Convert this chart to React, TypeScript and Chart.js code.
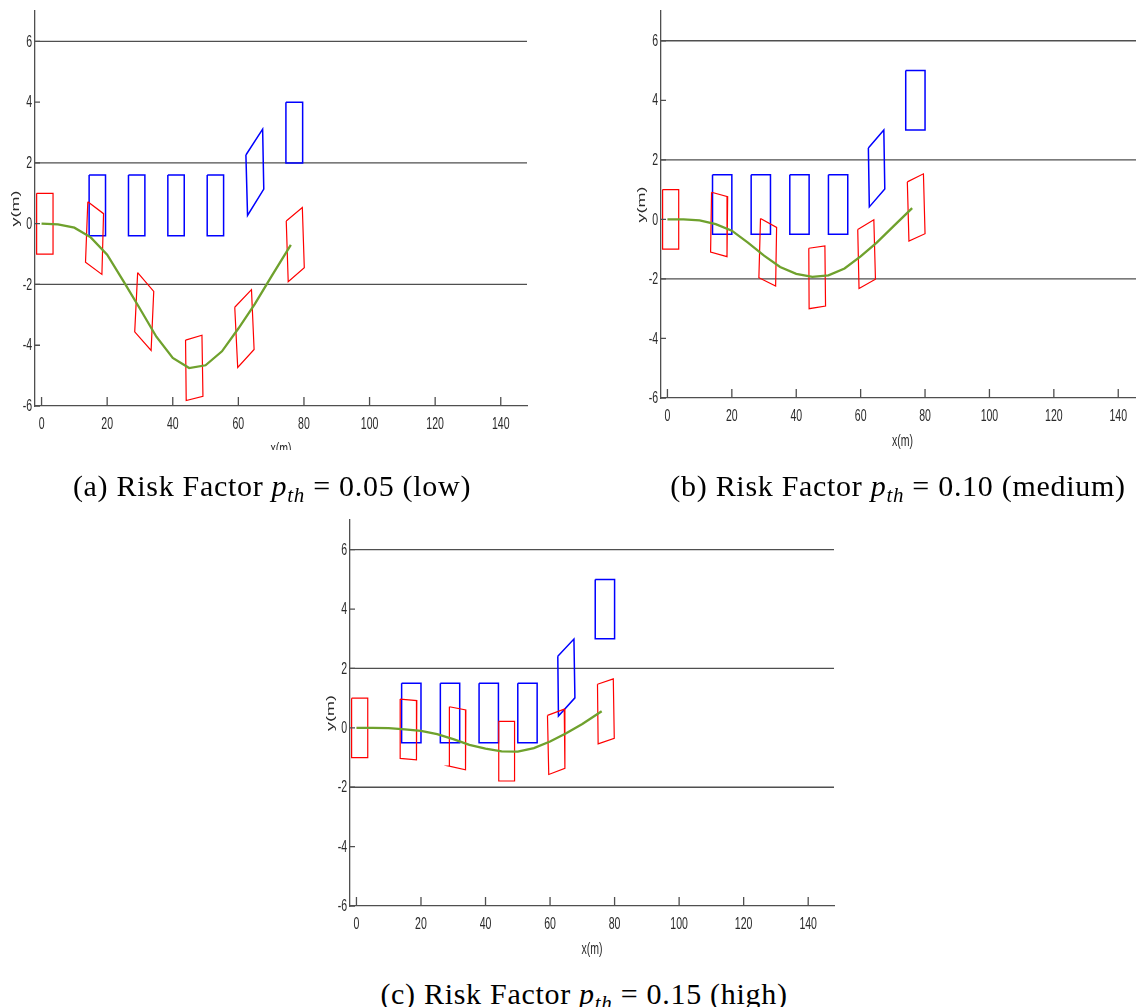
import React, { useEffect, useRef } from "react";
import { Chart, registerables } from "chart.js";

Chart.register(...registerables);

type Pt = [number, number];

// ---------- shared axis data ----------
const xRange = [-2, 148];
const yRange = [-6, 7];
const xTickValues = [0, 20, 40, 60, 80, 100, 120, 140];
const yTickValues = [-6, -4, -2, 0, 2, 4, 6];
const laneLineY = [6, 2, -2];
const xAxisTitle = "x(m)";
const yAxisTitle = "y(m)";

// ---------- (a) p_th = 0.05 ----------
const trajXA = [0, 5, 10, 15, 20, 25, 30, 35, 40, 45, 50, 55, 60, 65, 70, 76];
const trajYA = [0, -0.02, -0.13, -0.45, -1.02, -1.9, -2.8, -3.72, -4.42, -4.75, -4.66, -4.2, -3.45, -2.65, -1.75, -0.7];
const egoBoxesA: Pt[][] = [
  [[-1.5, 1], [3.5, 1], [3.5, -1], [-1.5, -1]],
  [[14.1, 0.72], [18.9, 0.33], [18.4, -1.67], [13.4, -1.27]],
  [[29.3, -1.61], [34.2, -2.23], [33.4, -4.17], [28.4, -3.56]],
  [[43.9, -3.83], [48.9, -3.67], [49.2, -5.68], [44.1, -5.82]],
  [[58.9, -2.75], [64.0, -2.17], [64.8, -4.14], [59.8, -4.73]],
  [[74.6, 0.09], [79.5, 0.53], [80.1, -1.45], [75.2, -1.91]],
];
const obstacleBoxesA: Pt[][] = [
  [[14.5, 1.6], [19.5, 1.6], [19.5, -0.4], [14.5, -0.4]],
  [[26.5, 1.6], [31.5, 1.6], [31.5, -0.4], [26.5, -0.4]],
  [[38.5, 1.6], [43.5, 1.6], [43.5, -0.4], [38.5, -0.4]],
  [[50.5, 1.6], [55.5, 1.6], [55.5, -0.4], [50.5, -0.4]],
  [[62.3, 2.26], [67.4, 3.11], [67.75, 1.14], [62.8, 0.27]],
  [[74.5, 4], [79.6, 4], [79.6, 2], [74.5, 2]],
];

// ---------- (b) p_th = 0.10 ----------
const trajXB = [0, 5, 10, 15, 20, 25, 30, 35, 40, 45, 50, 55, 60, 65, 70, 76];
const trajYB = [0, 0, -0.03, -0.16, -0.38, -0.78, -1.22, -1.6, -1.83, -1.93, -1.88, -1.65, -1.24, -0.78, -0.25, 0.38];
const egoBoxesB: Pt[][] = [
  [[-1.5, 1], [3.5, 1], [3.5, -1], [-1.5, -1]],
  [[13.7, 0.91], [18.7, 0.76], [18.5, -1.25], [13.4, -1.1]],
  [[28.9, 0.03], [33.9, -0.27], [33.6, -2.24], [28.4, -1.96]],
  [[43.9, -0.97], [48.9, -0.89], [49.1, -2.91], [44.0, -3.0]],
  [[59.1, -0.34], [64.1, -0.01], [64.6, -2.01], [59.5, -2.32]],
  [[74.5, 1.26], [79.5, 1.53], [80.0, -0.48], [75.0, -0.73]],
];
const obstacleBoxesB: Pt[][] = [
  [[14, 1.5], [20, 1.5], [20, -0.5], [14, -0.5]],
  [[26, 1.5], [32, 1.5], [32, -0.5], [26, -0.5]],
  [[38, 1.5], [44, 1.5], [44, -0.5], [38, -0.5]],
  [[50, 1.5], [56, 1.5], [56, -0.5], [50, -0.5]],
  [[62.4, 2.4], [67.2, 3.0], [67.5, 1.02], [62.7, 0.42]],
  [[74, 5], [80, 5], [80, 3], [74, 3]],
];

// ---------- (c) p_th = 0.15 ----------
const trajXC = [0, 5, 10, 15, 20, 25, 30, 35, 40, 45, 50, 55, 60, 65, 70, 76];
const trajYC = [0, 0, -0.01, -0.05, -0.1, -0.21, -0.38, -0.57, -0.7, -0.79, -0.8, -0.68, -0.46, -0.18, 0.13, 0.56];
const egoBoxesC: Pt[][] = [
  [[-1.5, 1], [3.5, 1], [3.5, -1], [-1.5, -1]],
  [[13.55, 0.97], [18.7, 0.92], [18.6, -1.08], [13.55, -1.03]],
  [[28.8, 0.71], [33.9, 0.6], [33.8, -1.41], [28.7, -1.29]],
  [[44.1, 0.22], [49.0, 0.22], [49.0, -1.79], [44.1, -1.79]],
  [[59.2, 0.42], [64.4, 0.63], [64.6, -1.36], [59.6, -1.57]],
  [[74.7, 1.47], [79.6, 1.65], [79.9, -0.35], [74.9, -0.54]],
];
const obstacleBoxesC: Pt[][] = [
  [[14, 1.5], [20, 1.5], [20, -0.5], [14, -0.5]],
  [[26, 1.5], [32, 1.5], [32, -0.5], [26, -0.5]],
  [[38, 1.5], [44, 1.5], [44, -0.5], [38, -0.5]],
  [[50, 1.5], [56, 1.5], [56, -0.5], [50, -0.5]],
  [[62.4, 2.41], [67.4, 2.99], [67.7, 1.01], [62.6, 0.4]],
  [[74, 5], [80, 5], [80, 3], [74, 3]],
];

const captionLabels = ["(a)", "(b)", "(c)"];
const riskValues = ["0.05", "0.10", "0.15"];
const riskLevels = ["low", "medium", "high"];

// ---------- styles ----------
const GREEN = "#6fa12d";
const RED = "#ff0000";
const BLUE = "#0000ff";
const AXIS_COLOR = "#4f4f4f";
const TEXT_COLOR = "#2a2a2a";
const SQUEEZE = 0.62;
const AXIS_FONT = '"Liberation Sans", Arial, sans-serif';

const closed = (poly: Pt[]) => [...poly, poly[0]].map(([x, y]) => ({ x, y }));

function buildDatasets(tx: number[], ty: number[], ego: Pt[][], obs: Pt[][]) {
  const base = { showLine: true, pointRadius: 0, fill: false, tension: 0 };
  const ds: any[] = [];
  ds.push({ ...base, data: tx.map((x, i) => ({ x, y: ty[i] })), borderColor: GREEN, borderWidth: 2.3 });
  ego.forEach((p) => ds.push({ ...base, data: closed(p), borderColor: RED, borderWidth: 1.2 }));
  obs.forEach((p) => ds.push({ ...base, data: closed(p), borderColor: BLUE, borderWidth: 1.5 }));
  laneLineY.forEach((y) =>
    ds.push({ ...base, data: [{ x: xRange[0], y }, { x: xRange[1], y }], borderColor: AXIS_COLOR, borderWidth: 1.3 })
  );
  return ds;
}

function squeezedText(ctx: CanvasRenderingContext2D, text: string, x: number, y: number, align: CanvasTextAlign, size: number) {
  ctx.save();
  ctx.translate(x, y);
  ctx.scale(SQUEEZE, 1);
  ctx.font = `${size}px ${AXIS_FONT}`;
  ctx.textAlign = align;
  ctx.textBaseline = "middle";
  ctx.fillStyle = TEXT_COLOR;
  ctx.fillText(text, 0, 0);
  ctx.restore();
}

const axisPlugin = {
  id: "matlabAxes",
  afterDraw(chart: any) {
    const { ctx, chartArea } = chart;
    const xs = chart.scales.x;
    const ys = chart.scales.y;
    ctx.save();
    ctx.strokeStyle = AXIS_COLOR;
    ctx.lineWidth = 1.3;
    ctx.beginPath();
    xs.ticks.forEach((t: any) => {
      const px = xs.getPixelForValue(t.value);
      ctx.moveTo(px, chartArea.bottom);
      ctx.lineTo(px, chartArea.bottom - 9);
    });
    ys.ticks.forEach((t: any) => {
      const py = ys.getPixelForValue(t.value);
      ctx.moveTo(chartArea.left, py);
      ctx.lineTo(chartArea.left + 5, py);
    });
    ctx.stroke();
    ctx.restore();

    xs.ticks.forEach((t: any) => {
      squeezedText(ctx, String(t.value), xs.getPixelForValue(t.value), chartArea.bottom + 18, "center", 17);
    });
    ys.ticks.forEach((t: any) => {
      squeezedText(ctx, String(t.value), chartArea.left - 3, ys.getPixelForValue(t.value) + 0.5, "right", 17);
    });
    squeezedText(ctx, xAxisTitle, (chartArea.left + chartArea.right) / 2, chartArea.bottom + 43, "center", 17);

    ctx.save();
    ctx.translate(chartArea.left - 19, (chartArea.top + chartArea.bottom) / 2);
    ctx.scale(SQUEEZE, 1);
    ctx.rotate(-Math.PI / 2);
    ctx.font = `18px ${AXIS_FONT}`;
    ctx.textAlign = "center";
    ctx.textBaseline = "middle";
    ctx.fillStyle = TEXT_COLOR;
    ctx.fillText(yAxisTitle, 0, 0);
    ctx.restore();
  },
};

type PanelCfg = {
  left: number; top: number; w: number; h: number;
  padTop: number; padRight: number; yAxisW: number; xAxisH: number;
  tx: number[]; ty: number[]; ego: Pt[][]; obs: Pt[][];
};

function Panel({ cfg }: { cfg: PanelCfg }) {
  const ref = useRef<HTMLCanvasElement>(null);
  useEffect(() => {
    const chart = new Chart(ref.current as HTMLCanvasElement, {
      type: "scatter",
      data: { datasets: buildDatasets(cfg.tx, cfg.ty, cfg.ego, cfg.obs) },
      options: {
        animation: false,
        responsive: false,
        maintainAspectRatio: false,
        layout: { padding: { left: 0, top: cfg.padTop, right: cfg.padRight, bottom: 0 } },
        plugins: { legend: { display: false }, tooltip: { enabled: false } },
        scales: {
          x: {
            type: "linear",
            position: "bottom",
            min: xRange[0],
            max: xRange[1],
            grid: { display: false, drawTicks: false },
            border: { display: true, color: AXIS_COLOR, width: 1.3 },
            ticks: { display: false },
            afterBuildTicks: (s: any) => { s.ticks = xTickValues.map((v) => ({ value: v })); },
            afterFit: (s: any) => { s.height = cfg.xAxisH; },
          },
          y: {
            type: "linear",
            position: "left",
            min: yRange[0],
            max: yRange[1],
            grid: { display: false, drawTicks: false },
            border: { display: true, color: AXIS_COLOR, width: 1.3 },
            ticks: { display: false },
            afterBuildTicks: (s: any) => { s.ticks = yTickValues.map((v) => ({ value: v })); },
            afterFit: (s: any) => { s.width = cfg.yAxisW; },
          },
        },
      } as any,
      plugins: [axisPlugin],
    });
    return () => chart.destroy();
  }, []);
  return (
    <canvas
      ref={ref}
      width={cfg.w}
      height={cfg.h}
      style={{ position: "absolute", left: cfg.left, top: cfg.top, width: cfg.w, height: cfg.h }}
    />
  );
}

const panels: PanelCfg[] = [
  { left: 0, top: 0, w: 540, h: 450, padTop: 11, padRight: 13, yAxisW: 35, xAxisH: 44, tx: trajXA, ty: trajYA, ego: egoBoxesA, obs: obstacleBoxesA },
  { left: 620, top: 0, w: 530, h: 460, padTop: 11, padRight: 6, yAxisW: 41, xAxisH: 62, tx: trajXB, ty: trajYB, ego: egoBoxesB, obs: obstacleBoxesB },
  { left: 310, top: 505, w: 540, h: 460, padTop: 15, padRight: 16, yAxisW: 40, xAxisH: 59, tx: trajXC, ty: trajYC, ego: egoBoxesC, obs: obstacleBoxesC },
];

const captionPos = [
  { cx: 272, cy: 486 },
  { cx: 898, cy: 486 },
  { cx: 584, cy: 994 },
];

function Caption({ i }: { i: number }) {
  const { cx, cy } = captionPos[i];
  return (
    <div
      style={{
        position: "absolute",
        left: cx - 300,
        top: cy - 20,
        width: 600,
        height: 40,
        lineHeight: "40px",
        textAlign: "center",
        fontFamily: '"Liberation Serif", "Times New Roman", serif',
        fontSize: 30,
        letterSpacing: "0.7px",
        color: "#000",
        whiteSpace: "nowrap",
      }}
    >
      {captionLabels[i]} Risk Factor <i>p</i>
      <sub style={{ fontSize: "0.7em", verticalAlign: "-0.3em", lineHeight: 0 }}>
        <i>th</i>
      </sub>
      {" = "}
      {riskValues[i]} ({riskLevels[i]})
    </div>
  );
}

export default function App() {
  return (
    <div
      style={{
        position: "absolute",
        left: 0,
        top: 0,
        width: 1136,
        height: 1007,
        overflow: "hidden",
        background: "#fff",
      }}
    >
      {panels.map((p, i) => (
        <Panel key={i} cfg={p} />
      ))}
      {[0, 1, 2].map((i) => (
        <Caption key={"c" + i} i={i} />
      ))}
    </div>
  );
}
